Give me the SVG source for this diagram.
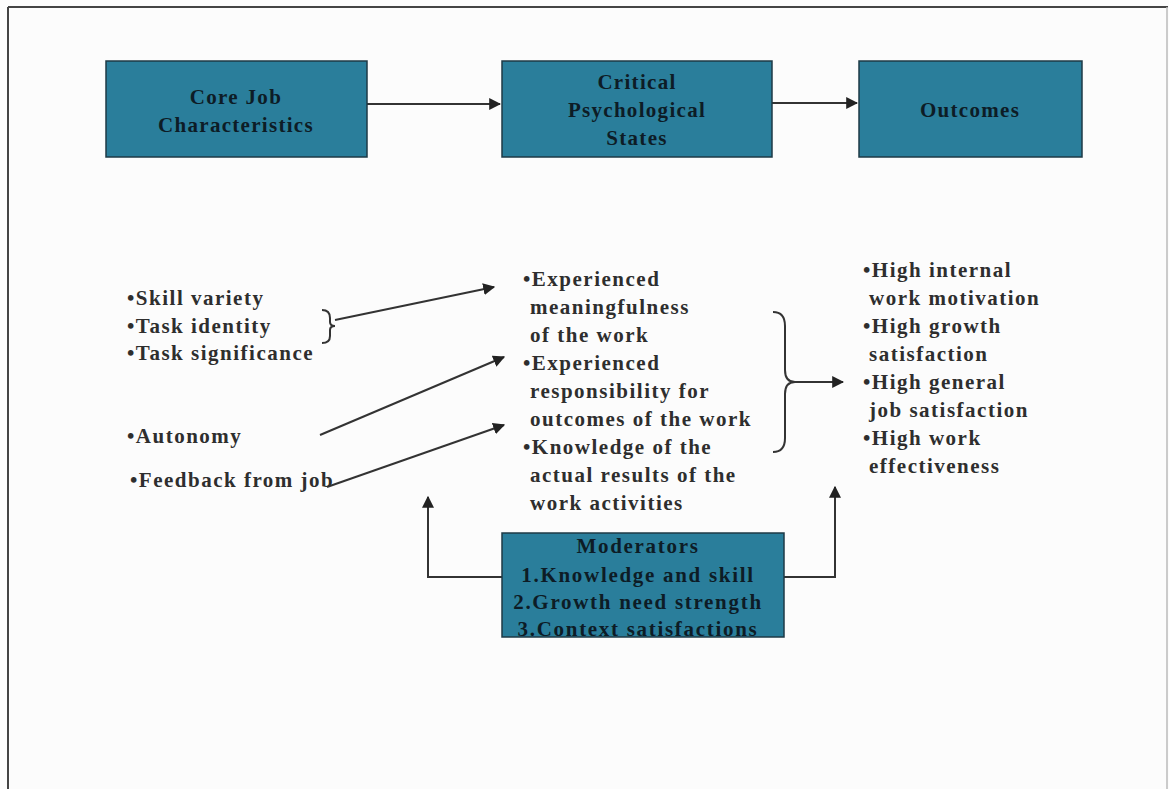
<svg xmlns="http://www.w3.org/2000/svg" width="1169" height="789" viewBox="0 0 1169 789">
  <style>
    .box { fill: #2a7e9b; stroke: #1e3a46; stroke-width: 1.5; }
    .btxt { font-family: "Liberation Serif", "Times New Roman", serif; font-size: 21px; font-weight: bold; fill: #0d1c26; text-anchor: middle; letter-spacing: 1.3px; }
    .mtxt { font-family: "Liberation Serif", "Times New Roman", serif; font-size: 21px; font-weight: bold; fill: #0d1c26; text-anchor: middle; letter-spacing: 1.7px; }
    .txt { font-family: "Liberation Serif", "Times New Roman", serif; font-size: 21px; font-weight: bold; fill: #2e2e2e; letter-spacing: 1.5px; }
    .conn { fill: none; stroke: #333; stroke-width: 2; }
    .frame { stroke: #444; stroke-width: 2; fill: none; }
  </style>
  <defs>
    <marker id="arrow" viewBox="0 0 10 10" refX="9" refY="5" markerWidth="6" markerHeight="6" markerUnits="strokeWidth" orient="auto">
      <path d="M0,0 L10,5 L0,10 z" fill="#222"/>
    </marker>
  </defs>

  <rect x="0" y="0" width="1169" height="789" fill="#fcfcfc"/>

  <!-- page frame -->
  <g id="frame">
    <line class="frame" x1="8" y1="7" x2="1168" y2="7"/>
    <line class="frame" x1="8" y1="7" x2="8" y2="789"/>
    <line x1="1167" y1="7" x2="1167" y2="789" stroke="#bbb" stroke-width="1.5"/>
  </g>

  <!-- connectors -->
  <g id="connectors">
    <line class="conn" x1="367" y1="104" x2="500" y2="104" marker-end="url(#arrow)"/>
    <line class="conn" x1="772" y1="103" x2="857" y2="103" marker-end="url(#arrow)"/>
    <line class="conn" x1="335" y1="320" x2="494" y2="287" marker-end="url(#arrow)"/>
    <line class="conn" x1="320" y1="435" x2="504" y2="357" marker-end="url(#arrow)"/>
    <line class="conn" x1="327" y1="487" x2="504" y2="425" marker-end="url(#arrow)"/>
    <line class="conn" x1="793" y1="382" x2="843" y2="382" marker-end="url(#arrow)"/>
    <polyline class="conn" points="502,577 428,577 428,497" marker-end="url(#arrow)"/>
    <polyline class="conn" points="784,577 835,577 835,487" marker-end="url(#arrow)"/>
  </g>

  <g id="core-job">
    <rect class="box" x="106" y="61" width="261" height="96"/>
    <text class="btxt" x="236" y="104">Core Job</text>
    <text class="btxt" x="236" y="132">Characteristics</text>
  </g>

  <g id="psych-states">
    <rect class="box" x="502" y="61" width="270" height="96"/>
    <text class="btxt" x="637" y="89">Critical</text>
    <text class="btxt" x="637" y="117">Psychological</text>
    <text class="btxt" x="637" y="145">States</text>
  </g>

  <g id="outcomes">
    <rect class="box" x="859" y="61" width="223" height="96"/>
    <text class="btxt" x="970" y="117">Outcomes</text>
  </g>

  <g id="job-dimensions">
    <text class="txt" x="127" y="305">•Skill variety</text>
    <text class="txt" x="127" y="333">•Task identity</text>
    <text class="txt" x="127" y="360">•Task significance</text>
    <text class="txt" x="127" y="443">•Autonomy</text>
    <text class="txt" x="130" y="487">•Feedback from job</text>
    <path class="conn" d="M322,310 Q330,310 330,318 L330,322 Q330,326 335,326 Q330,326 330,330 L330,336 Q330,343 322,343" stroke-width="1.6"/>
  </g>

  <g id="states-list">
    <text class="txt" x="523" y="286">•Experienced</text>
    <text class="txt" x="530" y="314">meaningfulness</text>
    <text class="txt" x="530" y="342">of the work</text>
    <text class="txt" x="523" y="370">•Experienced</text>
    <text class="txt" x="530" y="398">responsibility for</text>
    <text class="txt" x="530" y="426">outcomes of the work</text>
    <text class="txt" x="523" y="454">•Knowledge of the</text>
    <text class="txt" x="530" y="482">actual results of the</text>
    <text class="txt" x="530" y="510">work activities</text>
    <path class="conn" d="M773,312 Q785,312 785,326 L785,370 Q785,382 795,382 Q785,382 785,394 L785,438 Q785,452 773,452" stroke-width="1.8"/>
  </g>

  <g id="outcomes-list">
    <text class="txt" x="863" y="277">•High internal</text>
    <text class="txt" x="869" y="305">work motivation</text>
    <text class="txt" x="863" y="333">•High growth</text>
    <text class="txt" x="869" y="361">satisfaction</text>
    <text class="txt" x="863" y="389">•High general</text>
    <text class="txt" x="869" y="417">job satisfaction</text>
    <text class="txt" x="863" y="445">•High work</text>
    <text class="txt" x="869" y="473">effectiveness</text>
  </g>

  <g id="moderators">
    <rect class="box" x="502" y="533" width="282" height="104"/>
    <text class="mtxt" x="638" y="553">Moderators</text>
    <text class="mtxt" x="638" y="582">1.Knowledge and skill</text>
    <text class="mtxt" x="638" y="609">2.Growth need strength</text>
    <text class="mtxt" x="638" y="636">3.Context satisfactions</text>
  </g>
</svg>
